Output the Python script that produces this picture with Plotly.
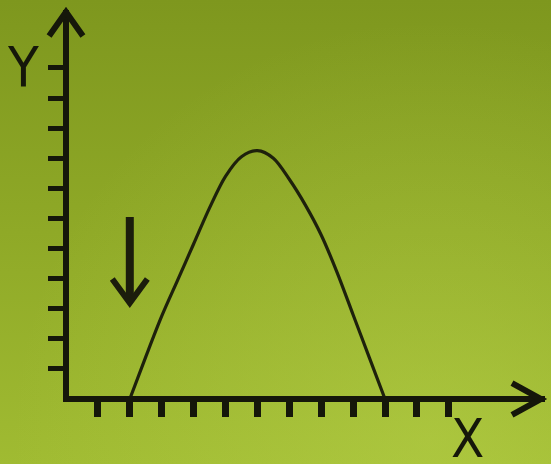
import plotly.graph_objects as go

# ---------------- data ----------------
curve_x = [2, 2.5, 3, 3.5, 4, 4.5, 5, 5.5, 6, 6.5, 7, 7.5, 8, 8.5, 9, 9.5, 10]
curve_y = [0, 1.4, 2.75, 3.95, 5.15, 6.35, 7.4, 8.05, 8.25, 8.0, 7.3, 6.45, 5.45, 4.2, 2.8, 1.4, 0]
x_ticks = [1, 2, 3, 4, 5, 6, 7, 8, 9, 10, 11, 12]
y_ticks = [1, 2, 3, 4, 5, 6, 7, 8, 9, 10, 11]
x_label = "X"
y_label = "Y"
marker_x = 2          # the down arrow points at this x value

# ---------------- geometry / style ----------------
W, H = 551, 464
OX, OY = 66, 399      # pixel of the origin (axis-line centres)
UX, UY = 31.9, 30.1   # pixels per unit
LW = 6                # axis line width
INK = "#15170a"

def px_x(p):  # pixel -> data (x)
    return (p - OX) / UX

def px_y(p):  # pixel (from top) -> data (y)
    return (OY - p) / UY

# full-figure background axes share the data scale
bx = [px_x(0), px_x(W)]
by = [px_y(H), px_y(0)]

# main axes: line centre sits LW/2 outside the domain edge
L, R, B, T = OX + LW / 2, 545, OY - LW / 2, 10

fig = go.Figure()

# background gradient
fig.add_trace(go.Scatter(
    x=[bx[0], bx[1], bx[1], bx[0], bx[0]],
    y=[by[0], by[0], by[1], by[1], by[0]],
    mode="lines", line=dict(width=0), fill="toself",
    fillgradient=dict(type="vertical", start=by[0], stop=by[1],
                      colorscale=[[0, "#a0bb32"], [0.5, "#8fa927"], [1, "#7e971e"]]),
    hoverinfo="skip", showlegend=False, xaxis="x", yaxis="y"))
# soft light toward the lower right
cxp, cyp, rr = 430, 440, 420
fig.add_trace(go.Scatter(
    x=[px_x(cxp - rr), px_x(cxp + rr), px_x(cxp + rr), px_x(cxp - rr), px_x(cxp - rr)],
    y=[px_y(cyp + rr), px_y(cyp + rr), px_y(cyp - rr), px_y(cyp - rr), px_y(cyp + rr)],
    mode="lines", line=dict(width=0), fill="toself",
    fillgradient=dict(type="radial",
                      colorscale=[[0, "rgba(195,220,85,0.35)"], [1, "rgba(195,220,85,0)"]]),
    hoverinfo="skip", showlegend=False, xaxis="x", yaxis="y"))

# the curve
fig.add_trace(go.Scatter(
    x=curve_x, y=curve_y, mode="lines",
    line=dict(color="#1e210c", width=3.2, shape="spline", smoothing=0.9),
    hoverinfo="skip", showlegend=False, xaxis="x", yaxis="y"))

shapes = []
# rain streaks (decoration)
streaks = [(35, 142, 168), (8, 255, 280), (103, 333, 358), (197, 0, 24), (208, 38, 62),
           (320, 50, 72), (410, 95, 125), (432, 172, 198), (407, 265, 290), (497, 226, 250),
           (465, 118, 145), (333, 343, 370), (250, 425, 452), (22, 405, 440), (63, 420, 450),
           (535, 165, 190), (300, 92, 112), (152, 38, 62), (94, 150, 175)]
for sx, s0, s1 in streaks:
    shapes.append(dict(type="line", xref="x", yref="y", x0=px_x(sx), x1=px_x(sx),
                       y0=px_y(s0), y1=px_y(s1), line=dict(color="rgba(225,238,170,0.55)", width=2.5),
                       layer="below"))
patches = [(138, 40, 72), (262, 108, 142), (470, 58, 92), (300, 50, 80), (415, 90, 128)]
for sx, s0, s1 in patches:
    shapes.append(dict(type="rect", xref="x", yref="y", x0=px_x(sx - 5), x1=px_x(sx + 5),
                       y0=px_y(s1), y1=px_y(s0), line=dict(width=0),
                       fillcolor="rgba(215,230,160,0.22)", layer="below"))

# axis arrow heads (chevrons)
xt = px_x(541)
shapes.append(dict(type="path", xref="x", yref="y",
                   path=f"M {px_x(512)},{0.53} L {xt},0 L {px_x(512)},{-0.53}",
                   line=dict(color=INK, width=LW)))
yt = px_y(12)
shapes.append(dict(type="path", xref="x", yref="y",
                   path=f"M {-0.53},{px_y(36)} L 0,{yt} L {0.53},{px_y(36)}",
                   line=dict(color=INK, width=LW)))
# down arrow above x = marker_x
shapes.append(dict(type="line", xref="x", yref="y", x0=marker_x, x1=marker_x,
                   y0=px_y(217), y1=px_y(300), line=dict(color="#1b1d0c", width=8)))
shapes.append(dict(type="path", xref="x", yref="y",
                   path=f"M {marker_x - 0.55},{px_y(279)} L {marker_x},{px_y(303)} L {marker_x + 0.55},{px_y(279)}",
                   line=dict(color="#1b1d0c", width=6)))

annotations = [
    dict(text=y_label, x=px_x(23), y=px_y(66), xref="x", yref="y", showarrow=False,
         font=dict(family="Liberation Sans Narrow, DejaVu Sans Condensed, sans-serif", size=56, color=INK)),
    dict(text=x_label, x=px_x(467), y=px_y(438), xref="x", yref="y", showarrow=False,
         font=dict(family="Liberation Sans Narrow, DejaVu Sans Condensed, sans-serif", size=54, color=INK)),
]

# main axes (lines + ticks)
fig.add_trace(go.Scatter(x=[None], y=[None], xaxis="x2", yaxis="y2", showlegend=False, hoverinfo="skip"))

fig.update_layout(
    width=W, height=H, margin=dict(l=0, r=0, t=0, b=0),
    paper_bgcolor="#8fa927", plot_bgcolor="rgba(0,0,0,0)",
    showlegend=False,
    xaxis=dict(domain=[0, 1], range=bx, visible=False, fixedrange=True),
    yaxis=dict(domain=[0, 1], range=by, visible=False, fixedrange=True),
    xaxis2=dict(domain=[L / W, R / W], range=[px_x(L), px_x(R)], anchor="y2",
                showline=True, linewidth=LW, linecolor=INK, ticks="outside",
                tickmode="array", tickvals=x_ticks, ticklen=15, tickwidth=7, tickcolor=INK,
                showticklabels=False, showgrid=False, zeroline=False),
    yaxis2=dict(domain=[(H - B) / H, (H - T) / H], range=[px_y(B), px_y(T)], anchor="x2",
                showline=True, linewidth=LW, linecolor=INK, ticks="outside",
                tickmode="array", tickvals=y_ticks, ticklen=15, tickwidth=5, tickcolor=INK,
                showticklabels=False, showgrid=False, zeroline=False),
    shapes=shapes, annotations=annotations,
)

fig.write_html("out.html", config={"displayModeBar": False},
               post_script="document.body.style.margin='0';document.body.style.overflow='hidden';")
